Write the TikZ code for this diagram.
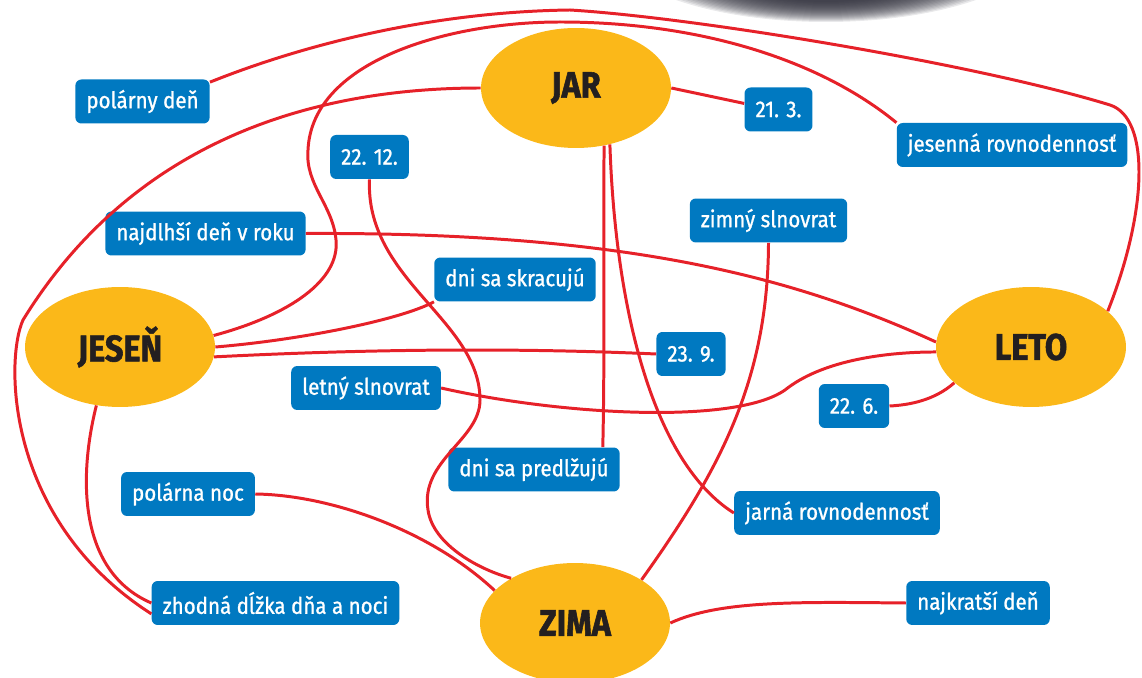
\documentclass[tikz,border=0pt]{standalone}
\usepackage{fontspec}
\setmainfont{Fira Sans}
\newfontfamily\pojemfont{Fira Sans}[FakeStretch=0.9, FakeBold=1]
\newfontfamily\obdobiefont{Fira Sans}[FakeStretch=0.88, BoldFeatures={FakeBold=1.5}]
\usetikzlibrary{shapes.geometric}

\definecolor{zlta}{HTML}{FBB819}
\definecolor{modra}{HTML}{0079C1}
\definecolor{cervena}{HTML}{E62129}
\definecolor{tmava}{HTML}{231F20}
\definecolor{planeta}{HTML}{2C2C38}

\begin{document}
\begin{tikzpicture}[x=0.02cm, y=-0.02cm,
    obdobie/.style={ellipse, fill=zlta, text=tmava, inner sep=0pt,
        minimum width=3.8cm, minimum height=2.4cm,
        font=\obdobiefont\bfseries\fontsize{21}{24}\selectfont},
    pojem/.style={rectangle, rounded corners=0.12cm, fill=modra, text=white,
        minimum height=0.88cm, inner xsep=0.22cm,
        font=\pojemfont\fontsize{13}{15}\selectfont},
    spoj/.style={draw=cervena, line width=1.7pt}]
    \useasboundingbox (0, 0) rectangle (1142, 678);

    % planeta hore
    \foreach \k in {20,...,0}
        \fill[planeta, opacity=0.1] (826, -60) ellipse ({140+4*\k} and {62+\k});

    % Ročné obdobia
    \node (jar) [obdobie] at (576, 88) {JAR};
    \node (jesen) [obdobie] at (120, 347) {JESEŇ};
    \node (leto) [obdobie] at (1031, 347) {LETO};
    \node (zima) [obdobie] at (575, 623) {ZIMA};

    % Pojmy
    \node (polden) [pojem] at (142.5, 101.5) {polárny deň};
    \node (dec22) [pojem] at (369.5, 157) {22. 12.};
    \node (mar21) [pojem] at (778.5, 109.5) {21. 3.};
    \node (jesrov) [pojem] at (1012, 145) {jesenná rovnodennosť};
    \node (zimslno) [pojem] at (768.5, 220.5) {zimný slnovrat};
    \node (najdlhsi) [pojem] at (205.5, 233.5) {najdlhší deň v roku};
    \node (skracuju) [pojem] at (515, 279.5) {dni sa skracujú};
    \node (sep23) [pojem] at (691, 354) {23. 9.};
    \node (letslno) [pojem] at (366, 388) {letný slnovrat};
    \node (jun22) [pojem] at (854, 406) {22. 6.};
    \node (predlzuju) [pojem] at (534, 469.5) {dni sa predlžujú};
    \node (polnoc) [pojem] at (188, 494) {polárna noc};
    \node (jarrov) [pojem] at (837, 513) {jarná rovnodennosť};
    \node (zhodna) [pojem] at (275.5, 603) {zhodná dĺžka dňa a noci};
    \node (najkratsi) [pojem] at (978, 603) {najkratší deň};

    % Spojnice
    \draw[spoj] (polden.16) .. controls (290, 50) and (420, 12) .. (570, 10)
        .. controls (700, 18) and (980, 65) .. (1110, 105)
        .. controls (1150, 118) and (1148, 210) .. (leto.25);
    \draw[spoj] (jesen.7) .. controls (290, 315) and (340, 280) .. (336, 240)
        .. controls (333, 205) and (305, 185) .. (308, 150)
        .. controls (312, 60) and (450, 22) .. (560, 22)
        .. controls (700, 22) and (820, 60) .. (jesrov.north west);
    \draw[spoj] (jar.west) .. controls (330, 88) and (140, 130) .. (23, 320)
        .. controls (5, 360) and (5, 520) .. (zhodna.185);
    \draw[spoj] (jesen.248) .. controls (80, 470) and (75, 570) .. (zhodna.west);
    \draw[spoj] (jar.east) -- (mar21.170);
    \draw[spoj] (jar.-64) .. controls (603, 250) and (605, 350) .. (predlzuju.18);
    \draw[spoj] (jar.-59) .. controls (615, 300) and (650, 460) .. (jarrov.west);
    \draw[spoj] (dec22.south) .. controls (365, 280) and (480, 320) .. (480, 400)
        .. controls (480, 440) and (420, 460) .. (428, 510)
        .. controls (433, 545) and (480, 570) .. (zima.145);
    \draw[spoj] (polnoc.east) .. controls (330, 495) and (430, 530) .. (zima.158);
    \draw[spoj] (zimslno.south) .. controls (768, 380) and (720, 470) .. (zima.33);
    \draw[spoj] (zima.east) .. controls (720, 600) and (800, 602) .. (najkratsi.west);
    \draw[spoj] (najdlhsi.east) .. controls (620, 232) and (790, 275) .. (leto.177);
    \draw[spoj] (jesen.east) .. controls (300, 340) and (400, 320) .. (skracuju.south west);
    \draw[spoj] (jesen.-6) .. controls (350, 350) and (500, 347) .. (sep23.west);
    \draw[spoj] (letslno.east) .. controls (560, 415) and (735, 425) .. (785, 390)
        .. controls (820, 362) and (880, 352) .. (leto.183);
    \draw[spoj] (leto.205) .. controls (935, 400) and (910, 405) .. (jun22.east);
\end{tikzpicture}
\end{document}
